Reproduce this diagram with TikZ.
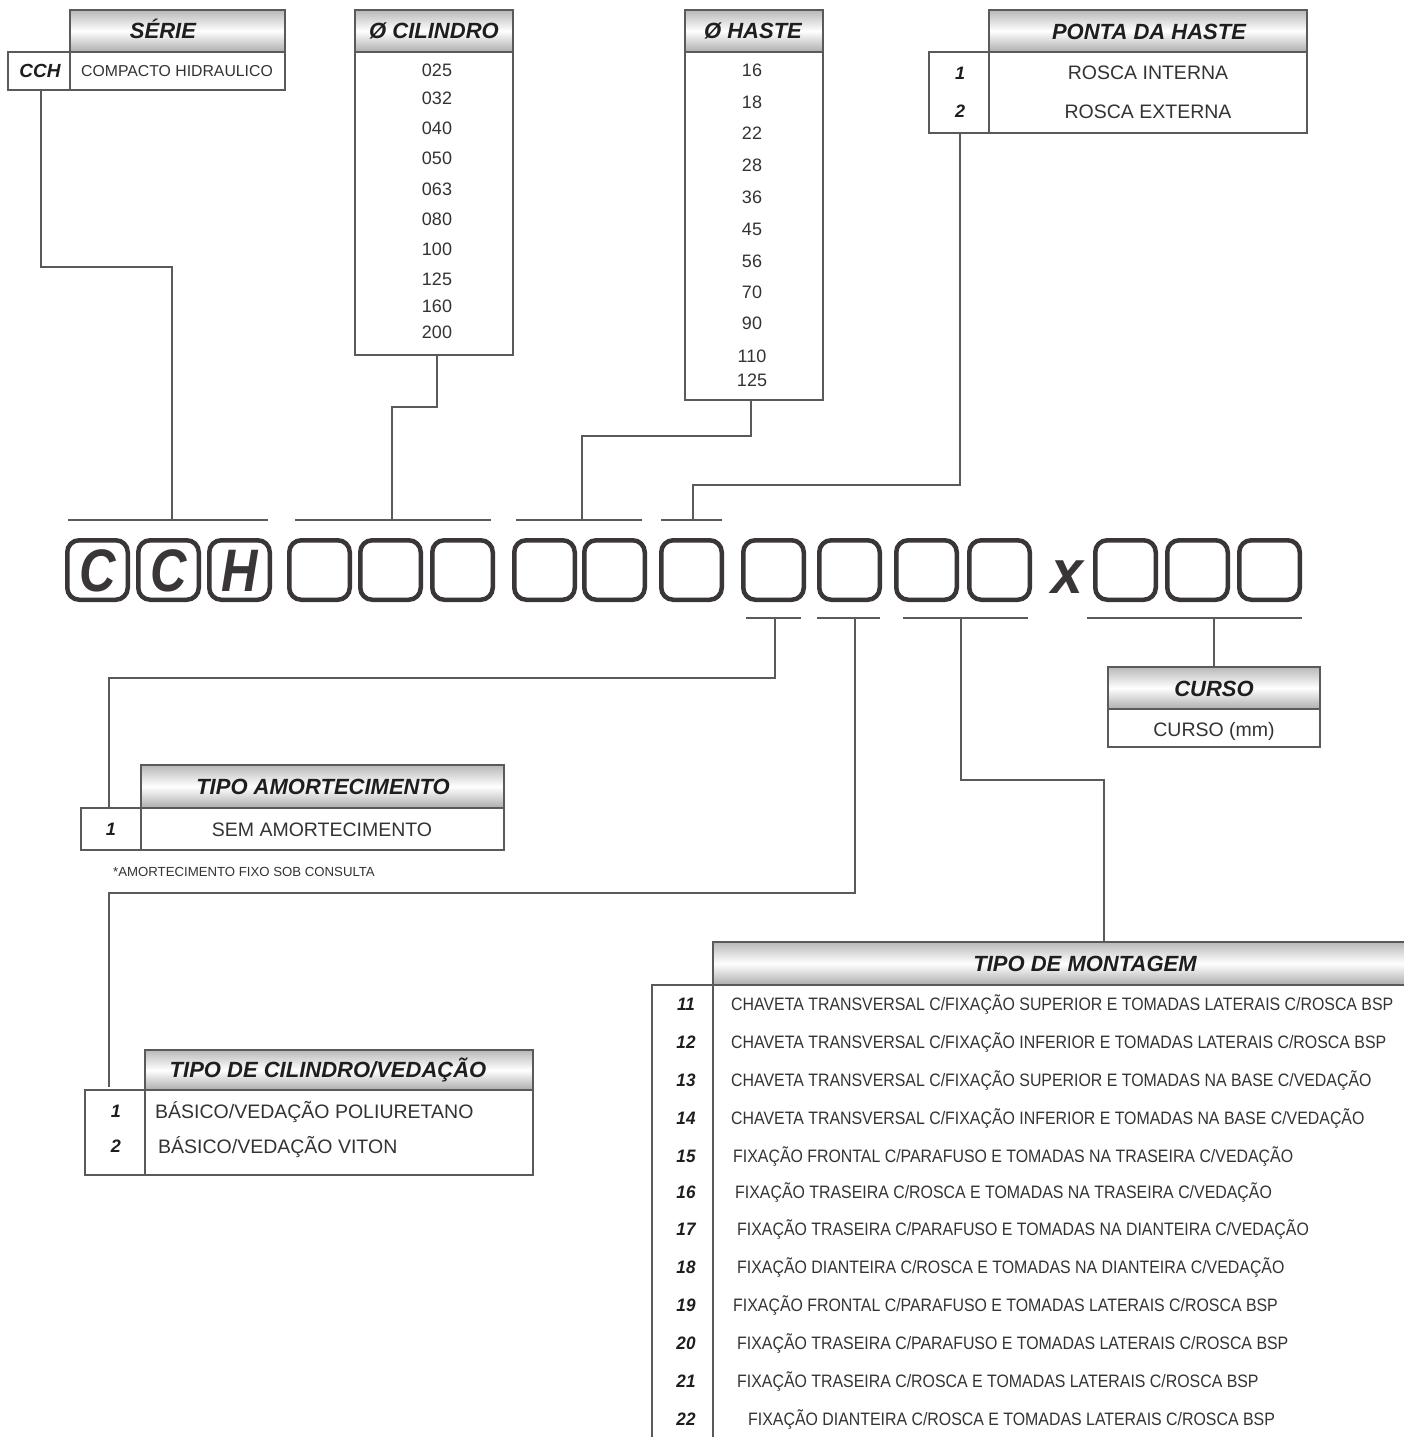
\documentclass[tikz,border=0pt]{standalone}
\usepackage{fontspec}
\setmainfont{Liberation Sans}
\usepackage{graphicx}
\definecolor{txt}{HTML}{333333}
\definecolor{hdt}{HTML}{1E1E1E}
\definecolor{ln}{HTML}{5A5A5A}
\definecolor{bx}{HTML}{3A3638}
\definecolor{hdg}{HTML}{B8B8B8}
\definecolor{hdg2}{HTML}{ADADAD}
\tikzset{
 tl/.style={draw=ln,line width=1.3pt},
 cn/.style={draw=ln,line width=1.2pt},
 hd/.style={top color=hdg,bottom color=hdg2,middle color=white,draw=ln,line width=1.3pt},
 htx/.style={font=\fontsize{22}{22}\selectfont\bfseries\itshape,text=hdt,inner sep=0pt,text height=15.8pt,text depth=0pt},
 btx/.style={font=\fontsize{19.5}{20}\selectfont,text=txt,inner sep=0pt,text height=14pt,text depth=0pt},
 stx/.style={font=\fontsize{15.8}{16}\selectfont,text=txt,inner sep=0pt,text height=11.3pt,text depth=0pt},
 vtx/.style={font=\fontsize{18}{18}\selectfont,text=txt,inner sep=0pt,text height=12.9pt,text depth=0pt},
 ntx/.style={font=\fontsize{18}{18}\selectfont\bfseries\itshape,text=hdt,inner sep=0pt,text height=12.9pt,text depth=0pt},
 mtx/.style={font=\fontsize{18}{18}\selectfont,text=txt,inner sep=0pt,text height=12.9pt,text depth=0pt,anchor=west},
 ftx/.style={font=\fontsize{13.2}{13}\selectfont,text=txt,inner sep=0pt,text height=9.4pt,text depth=0pt,anchor=west},
 bigbox/.style={draw=bx,line width=4.5pt,rounded corners=12pt,minimum width=60.5pt,minimum height=59.5pt,inner sep=0pt,font=\fontsize{60}{60}\selectfont\bfseries\itshape,text=bx,text height=43pt,text depth=0pt},
}
\newcommand\mrow[5]{% name, y, number, x, text
 \node[ntx] (#1n) at (686,#2) {\scalebox{0.95}[1]{#3}};
 \node[mtx] (#1t) at (#4,#2) {\scalebox{0.883}[1]{#5}};}
\newcommand\cdl[1]{\scalebox{0.84}[1]{#1}}
\begin{document}
\begin{tikzpicture}[x=1pt,y=-1pt]
\useasboundingbox[fill=white] (0,0) rectangle (1403,1437);

% ---------- SERIE ----------
\path[hd] (70,10) rectangle (285,52);
\draw[tl] (8,52) rectangle (70,90);
\draw[tl] (70,52) rectangle (285,90);
\node[htx] (serieh) at (163,31) {SÉRIE};
\node[ntx,font=\fontsize{19}{19}\selectfont\bfseries\itshape] (cch) at (40,71) {CCH};
\node[stx] (cchtxt) at (177,71) {COMPACTO HIDRAULICO};
\coordinate (serieb) at (41,90);

% ---------- CILINDRO ----------
\path[hd] (355,10) rectangle (513,52);
\draw[tl] (355,52) rectangle (513,355);
\node[htx] (cilh) at (434,31) {Ø CILINDRO};
\foreach \v/\y [count=\i] in {025/70,032/98,040/128,050/158,063/189,080/219,100/249,125/279,160/306,200/332}
  \node[vtx] (cil\i) at (437,\y) {\v};
\coordinate (cilb) at (437,355);

% ---------- HASTE ----------
\path[hd] (685,10) rectangle (823,52);
\draw[tl] (685,52) rectangle (823,400);
\node[htx] (hasteh) at (753,31) {Ø HASTE};
\foreach \v/\y [count=\i] in {16/70,18/102,22/133,28/165,36/197,45/229,56/261,70/292,90/323,110/356,125/380}
  \node[vtx] (has\i) at (752,\y) {\v};
\coordinate (hasb) at (751,400);

% ---------- PONTA DA HASTE ----------
\path[hd] (989,10) rectangle (1307,52);
\draw[tl] (929,52) rectangle (989,133);
\draw[tl] (989,52) rectangle (1307,133);
\node[htx] (pontah) at (1149,32) {PONTA DA HASTE};
\node[ntx] (p1n) at (960,73) {1};
\node[btx] (p1t) at (1148,73) {ROSCA INTERNA};
\node[ntx] (p2n) at (960,111) {2};
\node[btx] (p2t) at (1148,111) {ROSCA EXTERNA};
\coordinate (pontab) at (960,133);

% ---------- code boxes ----------
\node[bigbox] (b1) at (97.5,570) {\cdl{C}};
\node[bigbox] (b2) at (168.5,570) {\cdl{C}};
\node[bigbox] (b3) at (239.5,570) {\cdl{H}};
\foreach \x [count=\i from 4] in {319.5,390.5,462.5,544.5,614.5,691.5,773.5,849.5,926.5,999.5,1125.5,1197.5,1269.5}
  \node[bigbox] (b\i) at (\x,570) {};
\node[font=\fontsize{62}{62}\selectfont\bfseries\itshape,text=bx,inner sep=0pt,anchor=base] (xx) at (1067,593) {\scalebox{0.92}[1]{x}};

% bars above
\coordinate (t1a) at (68,520);  \coordinate (t1b) at (268,520);  \coordinate (t1m) at (172,520);
\coordinate (t2a) at (295,520); \coordinate (t2b) at (491,520);  \coordinate (t2m) at (392,520);
\coordinate (t3a) at (516,520); \coordinate (t3b) at (642,520);  \coordinate (t3m) at (582,520);
\coordinate (t4a) at (661,520); \coordinate (t4b) at (722,520);  \coordinate (t4m) at (693,520);
\foreach \k in {1,2,3,4} \draw[cn] (t\k a) -- (t\k b);
% bars below
\coordinate (u1a) at (746,618);  \coordinate (u1b) at (801,618);  \coordinate (u1m) at (775,618);
\coordinate (u2a) at (817,618);  \coordinate (u2b) at (880,618);  \coordinate (u2m) at (855,618);
\coordinate (u3a) at (903,618);  \coordinate (u3b) at (1028,618); \coordinate (u3m) at (961,618);
\coordinate (u4a) at (1087,618); \coordinate (u4b) at (1302,618); \coordinate (u4m) at (1214,618);
\foreach \k in {1,2,3,4} \draw[cn] (u\k a) -- (u\k b);

% connectors above
\draw[cn] (serieb) |- (172,267) -- (t1m);
\draw[cn] (cilb) |- (392,407) -- (t2m);
\draw[cn] (hasb) |- (582,436) -- (t3m);
\draw[cn] (pontab) |- (693,485) -- (t4m);

% ---------- CURSO ----------
\path[hd] (1108,667) rectangle (1320,709);
\draw[tl] (1108,709) rectangle (1320,747);
\node[htx] (cursoh) at (1214,689) {CURSO};
\node[btx] (cursot) at (1214,729) {CURSO (mm)};
\coordinate (cursotop) at (1214,667);
\draw[cn] (u4m) -- (cursotop);

% ---------- TIPO AMORTECIMENTO ----------
\path[hd] (141,765) rectangle (504,808);
\draw[tl] (81,808) rectangle (141,850);
\draw[tl] (141,808) rectangle (504,850);
\node[htx] (amorh) at (323,787) {TIPO AMORTECIMENTO};
\node[ntx] (a1n) at (111,829) {1};
\node[btx] (a1t) at (322,829) {SEM AMORTECIMENTO};
\node[ftx] (foot) at (113,872) {*AMORTECIMENTO FIXO SOB CONSULTA};
\coordinate (amortop) at (109,808);
\draw[cn] (u1m) |- (109,678) -- (amortop);

% ---------- TIPO DE CILINDRO/VEDACAO ----------
\path[hd] (145,1050) rectangle (533,1090);
\draw[tl] (85,1090) rectangle (145,1175);
\draw[tl] (145,1090) rectangle (533,1175);
\node[htx] (vedh) at (328,1070) {TIPO DE CILINDRO/VEDAÇÃO};
\node[ntx] (v1n) at (116,1111) {1};
\node[btx,anchor=west] (v1t) at (155,1111) {BÁSICO/VEDAÇÃO POLIURETANO};
\node[ntx] (v2n) at (116,1146) {2};
\node[btx,anchor=west] (v2t) at (158,1146) {BÁSICO/VEDAÇÃO VITON};
\coordinate (vedtop) at (109,1087);
\draw[cn] (u2m) |- (109,893) -- (vedtop);

% ---------- TIPO DE MONTAGEM ----------
\path[hd] (713,942) rectangle (1420,985);
\draw[tl] (652,1437) -- (652,985) -- (1420,985);
\draw[tl] (713,985) -- (713,1437);
\node[htx] (month) at (1085,964) {TIPO DE MONTAGEM};
\coordinate (monttop) at (1104,942);
\draw[cn] (u3m) |- (1104,780) -- (monttop);
\mrow{m11}{1004}{11}{731}{CHAVETA TRANSVERSAL C/FIXAÇÃO SUPERIOR E TOMADAS LATERAIS C/ROSCA BSP}
\mrow{m12}{1042}{12}{731}{CHAVETA TRANSVERSAL C/FIXAÇÃO INFERIOR E TOMADAS LATERAIS C/ROSCA BSP}
\mrow{m13}{1080}{13}{731}{CHAVETA TRANSVERSAL C/FIXAÇÃO SUPERIOR E TOMADAS NA BASE C/VEDAÇÃO}
\mrow{m14}{1118}{14}{731}{CHAVETA TRANSVERSAL C/FIXAÇÃO INFERIOR E TOMADAS NA BASE C/VEDAÇÃO}
\mrow{m15}{1156}{15}{733}{FIXAÇÃO FRONTAL C/PARAFUSO E TOMADAS NA TRASEIRA C/VEDAÇÃO}
\mrow{m16}{1192}{16}{735}{FIXAÇÃO TRASEIRA C/ROSCA E TOMADAS NA TRASEIRA C/VEDAÇÃO}
\mrow{m17}{1229}{17}{737}{FIXAÇÃO TRASEIRA C/PARAFUSO E TOMADAS NA DIANTEIRA C/VEDAÇÃO}
\mrow{m18}{1267}{18}{737}{FIXAÇÃO DIANTEIRA C/ROSCA E TOMADAS NA DIANTEIRA C/VEDAÇÃO}
\mrow{m19}{1305}{19}{733}{FIXAÇÃO FRONTAL C/PARAFUSO E TOMADAS LATERAIS C/ROSCA BSP}
\mrow{m20}{1343}{20}{737}{FIXAÇÃO TRASEIRA C/PARAFUSO E TOMADAS LATERAIS C/ROSCA BSP}
\mrow{m21}{1381}{21}{737}{FIXAÇÃO TRASEIRA C/ROSCA E TOMADAS LATERAIS C/ROSCA BSP}
\mrow{m22}{1419}{22}{748}{FIXAÇÃO DIANTEIRA C/ROSCA E TOMADAS LATERAIS C/ROSCA BSP}
\end{tikzpicture}
\end{document}
